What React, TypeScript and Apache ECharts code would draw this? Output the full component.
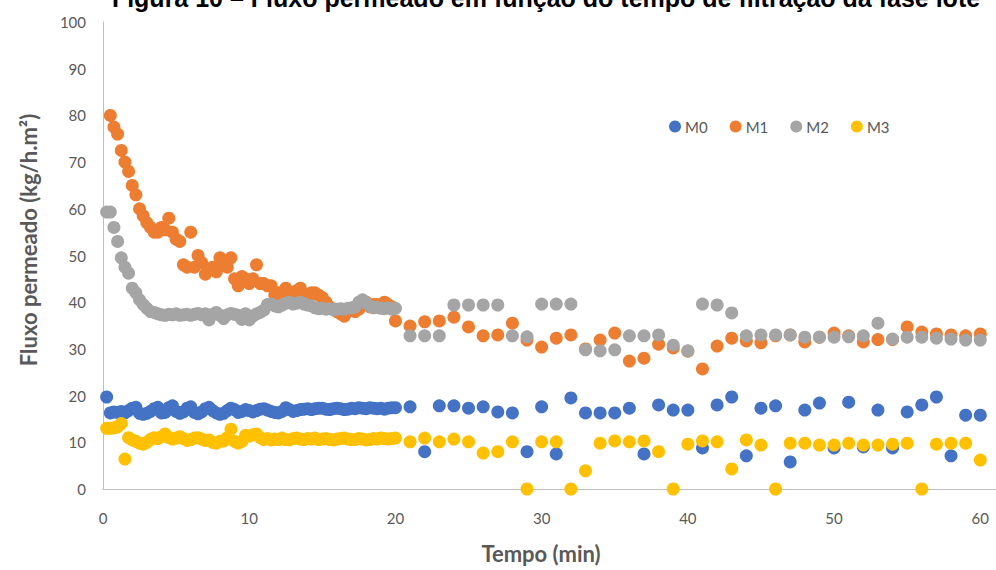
import React, { useEffect, useRef } from "react";
import * as echarts from "echarts";

// Time (min): dense sampling up to 20 min, then every minute
const denseTimes = [
  0.25, 0.5, 0.75, 1, 1.25, 1.5, 1.75, 2, 2.25, 2.5, 2.75, 3, 3.25, 3.5, 3.75, 4,
  4.25, 4.5, 4.75, 5, 5.25, 5.5, 5.75, 6, 6.25, 6.5, 6.75, 7, 7.25, 7.5, 7.75, 8,
  8.25, 8.5, 8.75, 9, 9.25, 9.5, 9.75, 10, 10.25, 10.5, 10.75, 11, 11.25, 11.5, 11.75, 12,
  12.25, 12.5, 12.75, 13, 13.25, 13.5, 13.75, 14, 14.25, 14.5, 14.75, 15, 15.25, 15.5, 15.75, 16,
  16.25, 16.5, 16.75, 17, 17.25, 17.5, 17.75, 18, 18.25, 18.5, 18.75, 19, 19.25, 19.5, 19.75, 20,
];
const sparseTimes = [
  21, 22, 23, 24, 25, 26, 27, 28, 29, 30, 31, 32, 33, 34, 35, 36, 37, 38, 39, 40,
  41, 42, 43, 44, 45, 46, 47, 48, 49, 50, 51, 52, 53, 54, 55, 56, 57, 58, 59, 60,
];

const m0Dense = [
  19.7, 16.3, 16.5, 16.4, 16.6, 16.3, 16.8, 17.3, 17.5, 16.2, 16.0, 16.2, 16.6, 17.2, 17.5, 16.3,
  16.4, 17.4, 17.8, 16.6, 16.2, 16.5, 17.3, 17.6, 16.4, 16.1, 16.5, 17.2, 17.5, 16.8, 16.3, 16.0,
  16.2, 16.8, 17.3, 17.0, 16.4, 16.6, 17.0, 16.8, 16.5, 16.8, 17.1, 17.2, 16.9, 16.6, 16.4, 16.3,
  16.6, 17.4, 17.0, 16.6, 16.8, 17.0, 17.1, 17.2, 17.0, 17.2, 17.3, 17.3, 17.1, 17.0, 17.2, 17.3,
  17.2, 17.0, 17.1, 17.3, 17.2, 17.4, 17.3, 17.2, 17.4, 17.3, 17.2, 17.3, 17.1, 17.3, 17.4, 17.4,
];
const m0Sparse = [
  17.6, 8, 17.8, 17.8, 17.3, 17.6, 16.5, 16.3, 8, 17.6, 7.5, 19.5, 16.3, 16.3, 16.3, 17.3, 7.5, 18, 16.9, 16.9,
  8.8, 18, 19.7, 7.1, 17.3, 17.8, 5.8, 16.9, 18.4, 8.8, 18.6, 9, 16.9, 8.8, 16.5, 18, 19.7, 7.1, 15.8, 15.8,
];

const m1Dense = [
  null, 80, 77.5, 76, 72.5, 70, 68, 65, 63, 60, 58.5, 57, 56, 55, 55, 56,
  55.5, 58, 55, 53.5, 53, 48, 47.5, 55, 47.5, 50, 48.5, 46, 47, 47.5, 46.5, 49.5,
  48, 47.5, 49.5, 45, 43.5, 45.5, 45, 44, 45, 48, 44, 44, 43.5, 43.5, 41.5, 42,
  41, 43, 42, 41.5, 42.5, 43, 41, 40.5, 42, 42, 41.5, 41, 40, 39, 38.5, 38,
  37.5, 37, 38, 38.5, 38, 38.5, 39.5, 40, 39, 39.5, 39.5, 39, 40, 39.5, 39, 36,
];
const m1Sparse = [
  34.9, 35.8, 36, 36.8, 34.7, 32.8, 33, 35.5, 31.9, 30.4, 32.3, 33, 30, 31.9, 33.4, 27.4, 28, 31, 30.2, 29.5,
  25.7, 30.6, 32.3, 31.7, 31.3, 32.8, 33, 31.5, 32.5, 33.4, 32.8, 31.5, 32, 32, 34.7, 33.6, 33.2, 33, 32.8, 33.2,
];

const m2Dense = [
  59.3, 59.3, 56, 53, 49.5, 47.5, 46.2, 43, 42, 40.5, 39.5, 38.7, 38, 37.8, 37.5, 37.3,
  37.2, 37.4, 37.3, 37.5, 37.2, 37.3, 37.4, 37.2, 37.4, 37.6, 37.3, 37.5, 36.2, 37.4, 37.8, 37.2,
  36.5, 37.3, 37.6, 37.4, 37.2, 36.3, 37.5, 36.2, 37.0, 37.5, 37.8, 38.3, 39.5, 39.6, 39.2, 39.0,
  39.4, 39.8, 40.0, 39.6, 39.8, 40.0, 39.6, 39.4, 39.2, 38.8, 38.6, 38.7, 38.5, 38.6, 38.4, 38.5,
  38.6, 38.5, 38.7, 38.8, 39.0, 40.0, 40.5, 39.8, 39.2, 38.8, 38.9, 38.7, 38.6, 38.8, 38.5, 38.7,
];
const m2Sparse = [
  32.8, 32.8, 32.8, 39.4, 39.4, 39.4, 39.4, 32.8, 32.6, 39.6, 39.6, 39.6, 29.8, 29.6, 29.8, 32.8, 32.8, 33, 30.8, 29.6,
  39.6, 39.4, 37.7, 32.8, 33, 33, 33, 32.5, 32.5, 32.5, 32.6, 32.8, 35.5, 32.1, 32.5, 32.5, 32.3, 32.1, 31.9, 31.9,
];

const m3Dense = [
  13.0, 13.0, 13.1, 13.3, 14.0, 6.4, 11.0, 10.5, 10.2, 9.8, 9.6, 10.0, 10.6, 11.0, 10.8, 11.2,
  11.8, 11.0, 10.7, 10.9, 11.2, 10.8, 10.4, 10.6, 10.9, 11.0, 10.7, 10.4, 10.5, 10.0, 9.8, 10.2,
  10.3, 11.0, 12.8, 10.2, 9.8, 10.2, 11.5, 11.3, 11.6, 11.8, 11.0, 10.6, 10.8, 10.5, 10.7, 10.6,
  10.9, 10.6, 10.5, 10.8, 10.9, 10.7, 10.6, 10.8, 10.7, 10.9, 10.6, 10.7, 10.8, 10.6, 10.5, 10.7,
  10.8, 10.9, 10.7, 10.6, 10.6, 10.8, 10.7, 10.5, 10.6, 10.8, 10.7, 10.9, 10.8, 10.7, 10.8, 10.9,
];
const m3Sparse = [
  10.1, 10.9, 10.1, 10.7, 10.1, 7.7, 8, 10.1, 0, 10.1, 10.1, 0, 3.9, 9.8, 10.3, 10.1, 10.3, 8, 0, 9.6,
  10.3, 10.1, 4.3, 10.5, 9.4, 0, 9.8, 9.8, 9.4, 9.4, 9.8, 9.4, 9.4, 9.6, 9.8, 0, 9.6, 9.8, 9.8, 6.2,
];

const seriesNames = ["M0", "M1", "M2", "M3"];
const seriesColors = ["#4472C4", "#ED7D31", "#A5A5A5", "#FFC000"];

const titleText = "Figura 10 – Fluxo permeado em função do tempo de filtração da fase lote";
const xTitle = "Tempo (min)";
const yTitle = "Fluxo permeado (kg/h.m²)";

function pairs(dense: (number | null)[], sparse: number[]) {
  const out: number[][] = [];
  dense.forEach((v, i) => {
    if (v !== null) out.push([denseTimes[i], v]);
  });
  sparse.forEach((v, i) => out.push([sparseTimes[i], v]));
  return out;
}

export default function App() {
  const ref = useRef<HTMLDivElement>(null);
  useEffect(() => {
    if (!ref.current) return;
    const chart = echarts.init(ref.current, null, { renderer: "svg" });
    const allData = [
      pairs(m0Dense, m0Sparse),
      pairs(m1Dense, m1Sparse),
      pairs(m2Dense, m2Sparse),
      pairs(m3Dense, m3Sparse),
    ];
    const labelFont = "Lato, 'Open Sans', sans-serif";
    chart.setOption({
      animation: false,
      backgroundColor: "#ffffff",
      grid: {
        left: 103,
        width: 1023.5,
        top: 22,
        height: 467,
        containLabel: false,
        outerBoundsMode: "none",
      },
      legend: {
        data: seriesNames,
        left: 664,
        top: 114,
        icon: "circle",
        itemWidth: 12,
        itemHeight: 12,
        itemGap: 22,
        textStyle: { color: "#595959", fontSize: 15, fontFamily: labelFont, padding: [0, 0, 0, -1] },
      },
      xAxis: {
        type: "value",
        min: 0,
        max: 70,
        interval: 10,
        axisLine: { show: true, lineStyle: { color: "#BFBFBF", width: 1 } },
        axisTick: { show: false },
        splitLine: { show: false },
        axisLabel: {
          color: "#595959",
          fontSize: 15,
          fontFamily: labelFont,
          margin: 21,
          showMaxLabel: false,
        },
      },
      yAxis: {
        type: "value",
        min: 0,
        max: 100,
        interval: 10,
        axisLine: { show: true, lineStyle: { color: "#BFBFBF", width: 1 } },
        axisTick: { show: false },
        splitLine: { show: false },
        axisLabel: { color: "#595959", fontSize: 15, fontFamily: labelFont, margin: 17 },
      },
      graphic: [
        {
          type: "text",
          x: 546,
          y: 10,
          style: {
            text: titleText,
            textAlign: "center",
            textVerticalAlign: "bottom",
            fontSize: 25,
            fontWeight: "bold",
            fontFamily: "'Liberation Sans', Arial, sans-serif",
            fill: "#000000",
          },
        },
        {
          type: "text",
          x: 541,
          y: 553,
          style: {
            text: xTitle,
            textAlign: "center",
            textVerticalAlign: "middle",
            fontSize: 22,
            fontWeight: "bold",
            fontFamily: labelFont,
            fill: "#595959",
          },
        },
        {
          type: "text",
          x: 28,
          y: 240,
          rotation: Math.PI / 2,
          style: {
            text: yTitle,
            textAlign: "center",
            textVerticalAlign: "middle",
            fontSize: 22,
            fontWeight: "bold",
            fontFamily: labelFont,
            fill: "#595959",
          },
        },
      ],
      series: seriesNames.map((name, i) => ({
        name,
        type: "scatter",
        symbol: "circle",
        symbolSize: 13,
        itemStyle: { color: seriesColors[i], opacity: 1 },
        data: allData[i],
        clip: false,
        z: 2 + i,
      })),
    });
    return () => chart.dispose();
  }, []);
  return (
    <div
      ref={ref}
      style={{ position: "fixed", left: 0, top: 0, width: 996, height: 570, background: "#fff" }}
    />
  );
}
